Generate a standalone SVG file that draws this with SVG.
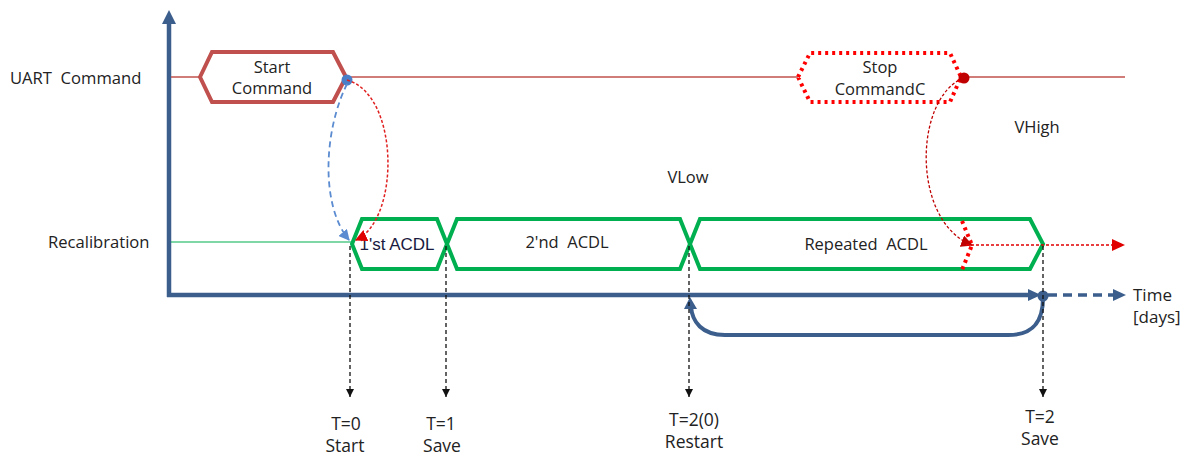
<svg xmlns="http://www.w3.org/2000/svg" width="1194" height="457" viewBox="0 0 1194 457">
<style>
.t{font-family:"Open Sans","Noto Sans",sans-serif;fill:#222;white-space:pre;}
.lbl{font-size:16.6px;}
.big{font-size:17.5px;text-anchor:middle;}
.in{font-size:16.5px;text-anchor:middle;}
.vl{font-family:"Liberation Sans",Arial,sans-serif;fill:#1a1a40;font-size:17px;text-anchor:middle;}
.axis{stroke:#3B5E8C;fill:none;}
.vd{stroke:#111;stroke-width:1.3;stroke-dasharray:4 3;fill:none;marker-end:url(#ab);}
.acdl{fill:none;stroke:#00B050;stroke-width:4;stroke-linejoin:miter;}
</style>
<defs>
<marker id="ab" viewBox="0 0 10 10" refX="10" refY="5" markerWidth="8" markerHeight="8" markerUnits="userSpaceOnUse" orient="auto"><path d="M0,0 L10,5 L0,10 z" fill="#111"/></marker>
<marker id="ared" viewBox="0 0 10 10" refX="9" refY="5" markerWidth="12" markerHeight="12" markerUnits="userSpaceOnUse" orient="auto"><path d="M0,0 L10,5 L0,10 z" fill="#E00000"/></marker>
<marker id="adred" viewBox="0 0 10 10" refX="9" refY="5" markerWidth="12" markerHeight="12" markerUnits="userSpaceOnUse" orient="auto"><path d="M0,0 L10,5 L0,10 z" fill="#C00000"/></marker>
<marker id="ablue" viewBox="0 0 10 10" refX="9" refY="5" markerWidth="11" markerHeight="11" markerUnits="userSpaceOnUse" orient="auto"><path d="M0,0 L10,5 L0,10 z" fill="#5B8BD0"/></marker>
</defs>

<g id="axes">
<line class="axis" x1="169" y1="297" x2="169" y2="22" stroke-width="4.5"/>
<path d="M162,24 L169,10 L176,24 z" fill="#3B5E8C"/>
<line class="axis" x1="167" y1="295" x2="1032" y2="295" stroke-width="4.5"/>
<path d="M1028,289 L1041,295 L1028,301 z" fill="#3B5E8C"/>
<line class="axis" x1="1048" y1="295" x2="1116" y2="295" stroke-width="3.5" stroke-dasharray="9 6"/>
<path d="M1113,289 L1126,295 L1113,301 z" fill="#3B5E8C"/>
<circle cx="1043" cy="296" r="5.5" fill="#3B5E8C"/>
<text class="t lbl" x="1133" y="301" style="font-size:17px">Time</text>
<text class="t lbl" x="1133" y="323" style="font-size:17px">[days]</text>
</g>

<g id="uart">
<text class="t lbl" x="10" y="84" xml:space="preserve">UART  Command</text>
<line x1="171" y1="77" x2="1125" y2="77" stroke="#C0504D" stroke-width="1.5"/>
</g>

<g id="start-command">
<path d="M200,77 L212,52 L333,52 L346,77 L333,102 L212,102 Z" fill="#fff" stroke="#C0504D" stroke-width="4"/>
<text class="t in" x="272" y="73">Start</text>
<text class="t in" x="272" y="94">Command</text>
<circle cx="347" cy="80" r="5.5" fill="#4A7FC8"/>
</g>

<g id="stop-command">
<path d="M798,77 L810,53 L950,53 L961,77 L950,102 L810,102 Z" fill="#fff" stroke="#FF0000" stroke-width="4" stroke-dasharray="3 4"/>
<text class="t in" x="880" y="73">Stop</text>
<text class="t in" x="880" y="95">CommandC</text>
<circle cx="964" cy="78" r="5.5" fill="#C00000"/>
</g>

<g id="recalibration">
<text class="t lbl" x="48" y="248">Recalibration</text>
<line x1="171" y1="242" x2="352" y2="242" stroke="#00B050" stroke-width="1.2"/>
</g>

<g id="acdl1">
<path class="acdl" d="M352,244 L362,219 L437,219 L447,244 L437,269 L362,269 Z"/>
<text class="vl" x="397" y="250">1'st ACDL</text>
</g>
<g id="acdl2">
<path class="acdl" d="M447,244 L457,219 L680,219 L690,244 L680,269 L457,269 Z"/>
<text class="t in" x="567" y="248" xml:space="preserve">2'nd  ACDL</text>
</g>
<g id="acdl3">
<path class="acdl" d="M690,244 L700,219 L1030,219 L1043,244 L1030,269 L700,269 Z"/>
<text class="t in" x="866" y="250" xml:space="preserve">Repeated  ACDL</text>
<path d="M962,221 L972,245 L962,270" fill="none" stroke="#FF0000" stroke-width="4" stroke-dasharray="3 4"/>
</g>

<g id="levels">
<text class="t in" x="688" y="183">VLow</text>
<text class="t in" x="1037" y="133">VHigh</text>
</g>

<g id="connectors">
<path d="M347,80 C400,95 400,220 356,240" fill="none" stroke="#E02020" stroke-width="1.5" stroke-dasharray="3 2" marker-end="url(#ared)"/>
<path d="M347,84 C324,130 320,205 349,240" fill="none" stroke="#5B8BD0" stroke-width="1.8" stroke-dasharray="6 4" marker-end="url(#ablue)"/>
<path d="M963,78 C913,100 912,222 972,245" fill="none" stroke="#C00000" stroke-width="1.3" stroke-dasharray="3 2" marker-end="url(#adred)"/>
<line x1="966" y1="245" x2="1115" y2="245" stroke="#E00000" stroke-width="1.5" stroke-dasharray="3 2"/>
<path d="M1112,239 L1125,245 L1112,251 z" fill="#E00000"/>
<path d="M1043,298 C1043,322 1033,335 1008,335 L725,335 C702,335 692,322 691,306" fill="none" stroke="#3B5E8C" stroke-width="4"/>
<path d="M684,309 L690,297 L697,309 z" fill="#3B5E8C"/>
<line class="vd" x1="350" y1="246" x2="350" y2="397"/>
<line class="vd" x1="446" y1="246" x2="446" y2="397"/>
<line class="vd" x1="689" y1="246" x2="689" y2="397"/>
<line class="vd" x1="1043" y1="246" x2="1043" y2="397"/>
</g>

<g id="time-labels">
<text class="t big" x="346" y="430">T=0</text>
<text class="t big" x="345" y="452">Start</text>
<text class="t big" x="441" y="430">T=1</text>
<text class="t big" x="442" y="452">Save</text>
<text class="t big" x="694" y="426">T=2(0)</text>
<text class="t big" x="694" y="448">Restart</text>
<text class="t big" x="1040" y="423">T=2</text>
<text class="t big" x="1040" y="445">Save</text>
</g>
</svg>
